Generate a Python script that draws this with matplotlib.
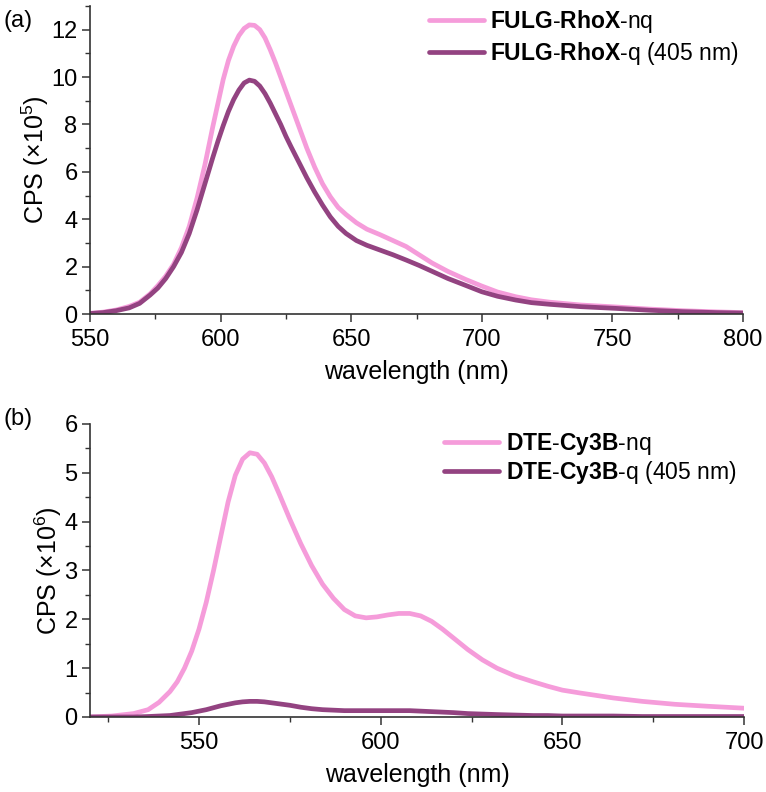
import numpy as np
import matplotlib
matplotlib.use("Agg")
from matplotlib import pyplot as plt
from matplotlib.ticker import MultipleLocator

plt.rcParams['font.family'] = ['Liberation Sans', 'DejaVu Sans']
plt.rcParams['mathtext.fontset'] = 'custom'
plt.rcParams['mathtext.rm'] = 'Liberation Sans'
plt.rcParams['mathtext.bf'] = 'Liberation Sans:bold'

# (a) FULG-RhoX emission, CPS x1e5
wlA = [550, 555, 560, 565, 569, 573, 576, 579, 582, 585, 588, 591, 594, 597, 599, 601, 603, 605,
       607, 609, 611, 613, 615, 617, 619, 621, 623, 625, 627, 630, 633, 636, 639, 642, 645, 648,
       652, 656, 661, 666, 671, 676, 681, 687, 694, 700, 706, 713, 719, 726, 738, 751, 764, 777,
       790, 800]
fulgNq = [0.03, 0.08, 0.17, 0.32, 0.5, 0.85, 1.2, 1.6, 2.1, 2.8, 3.7, 4.9, 6.3, 7.9, 8.9, 9.9,
          10.7, 11.3, 11.75, 12.05, 12.2, 12.18, 12.0, 11.65, 11.15, 10.6, 10.0, 9.4, 8.8, 7.9,
          7.0, 6.2, 5.5, 4.95, 4.5, 4.2, 3.85, 3.58, 3.35, 3.1, 2.85, 2.5, 2.15, 1.8, 1.45, 1.18,
          0.93, 0.73, 0.6, 0.5, 0.38, 0.3, 0.21, 0.14, 0.09, 0.06]
fulgQ = [0.02, 0.06, 0.14, 0.26, 0.45, 0.8, 1.1, 1.5, 2.0, 2.6, 3.4, 4.4, 5.5, 6.6, 7.3, 7.95,
         8.55, 9.05, 9.45, 9.75, 9.87, 9.82, 9.62, 9.3, 8.9, 8.45, 8.0, 7.5, 7.05, 6.4, 5.75, 5.15,
         4.6, 4.1, 3.7, 3.4, 3.1, 2.9, 2.7, 2.5, 2.28, 2.05, 1.8, 1.5, 1.2, 0.94, 0.75, 0.59,
         0.48, 0.41, 0.31, 0.24, 0.16, 0.1, 0.06, 0.04]

# (b) DTE-Cy3B emission, CPS x1e6
wlB = [520, 526, 532, 536, 539, 542, 544, 546, 548, 550, 552, 554, 556, 558, 560, 562, 564, 566,
       568, 570, 572, 575, 578, 581, 584, 587, 590, 593, 596, 599, 602, 605, 608, 611, 614, 617,
       620, 624, 628, 632, 637, 642, 646, 650, 655, 664, 672, 681, 690, 700]
dteNq = [0.0, 0.02, 0.07, 0.15, 0.3, 0.52, 0.72, 1.0, 1.35, 1.8, 2.35, 3.0, 3.7, 4.4, 4.95, 5.28,
         5.41, 5.38, 5.2, 4.92, 4.58, 4.05, 3.55, 3.1, 2.72, 2.43, 2.2, 2.07, 2.03, 2.05, 2.09,
         2.12, 2.12, 2.07, 1.96, 1.8, 1.62, 1.38, 1.17, 1.0, 0.84, 0.72, 0.63, 0.55, 0.49, 0.39,
         0.32, 0.26, 0.22, 0.18]
dteQ = [0.0, 0.0, 0.0, 0.01, 0.02, 0.03, 0.05, 0.07, 0.09, 0.12, 0.15, 0.19, 0.23, 0.26, 0.29,
        0.31, 0.32, 0.32, 0.31, 0.29, 0.27, 0.24, 0.2, 0.17, 0.15, 0.14, 0.13, 0.13, 0.13, 0.13,
        0.13, 0.13, 0.13, 0.12, 0.11, 0.1, 0.09, 0.07, 0.06, 0.05, 0.04, 0.03, 0.03, 0.02, 0.02,
        0.02, 0.01, 0.01, 0.01, 0.01]

pink = '#F59CDA'
purple = '#934381'
lw = 3.4

fig = plt.figure(figsize=(7.66, 7.92), dpi=100)
axA = fig.add_axes([0.1175, 0.6035, 0.8525, 0.389])
axB = fig.add_axes([0.1175, 0.0947, 0.8538, 0.37])


def styleAxes(ax):
    for side in ('top', 'right'):
        ax.spines[side].set_visible(False)
    for side in ('left', 'bottom'):
        ax.spines[side].set_linewidth(1.2)
        ax.spines[side].set_color('#333333')
    ax.tick_params(which='major', direction='out', length=6, width=1.1, labelsize=17, pad=3,
                   color='#333333')
    ax.tick_params(axis='x', which='major', pad=5)
    ax.tick_params(which='minor', direction='out', length=3.5, width=1.0, color='#333333')


axA.plot(wlA, fulgNq, color=pink, lw=lw, solid_capstyle='round', label=r'$\mathbf{FULG}$-$\mathbf{RhoX}$-nq')
axA.plot(wlA, fulgQ, color=purple, lw=lw, solid_capstyle='round', label=r'$\mathbf{FULG}$-$\mathbf{RhoX}$-q (405 nm)')
axA.set_xlim(550, 800)
axA.set_ylim(0, 13)
axA.xaxis.set_major_locator(MultipleLocator(50))
axA.xaxis.set_minor_locator(MultipleLocator(25))
axA.yaxis.set_major_locator(MultipleLocator(2))
axA.yaxis.set_minor_locator(MultipleLocator(1))
styleAxes(axA)
axA.set_xlabel('wavelength (nm)', fontsize=18, labelpad=6)
axA.set_ylabel(r'CPS (×10$^5$)', fontsize=18, labelpad=0)
axA.legend(loc='upper right', bbox_to_anchor=(1.025, 1.06), frameon=False, fontsize=16.5,
           handlelength=2.4, handletextpad=0.3, labelspacing=0.2)
fig.text(0.004, 0.966, '(a)', fontsize=17)

axB.plot(wlB, dteNq, color=pink, lw=lw, solid_capstyle='round', label=r'$\mathbf{DTE}$-$\mathbf{Cy3B}$-nq')
axB.plot(wlB, dteQ, color=purple, lw=lw, solid_capstyle='round', label=r'$\mathbf{DTE}$-$\mathbf{Cy3B}$-q (405 nm)')
axB.set_xlim(520, 700)
axB.set_ylim(0, 6)
axB.set_xticks([550, 600, 650, 700])
axB.xaxis.set_minor_locator(MultipleLocator(25))
axB.yaxis.set_major_locator(MultipleLocator(1))
axB.yaxis.set_minor_locator(MultipleLocator(0.5))
styleAxes(axB)
axB.set_xlabel('wavelength (nm)', fontsize=18, labelpad=6)
axB.set_ylabel(r'CPS (×10$^6$)', fontsize=18, labelpad=0)
axB.legend(loc='upper right', bbox_to_anchor=(1.02, 1.045), frameon=False, fontsize=16.5,
           handlelength=2.4, handletextpad=0.3, labelspacing=0.05)
fig.text(0.004, 0.463, '(b)', fontsize=17)

fig.savefig('out.png', dpi=100)
